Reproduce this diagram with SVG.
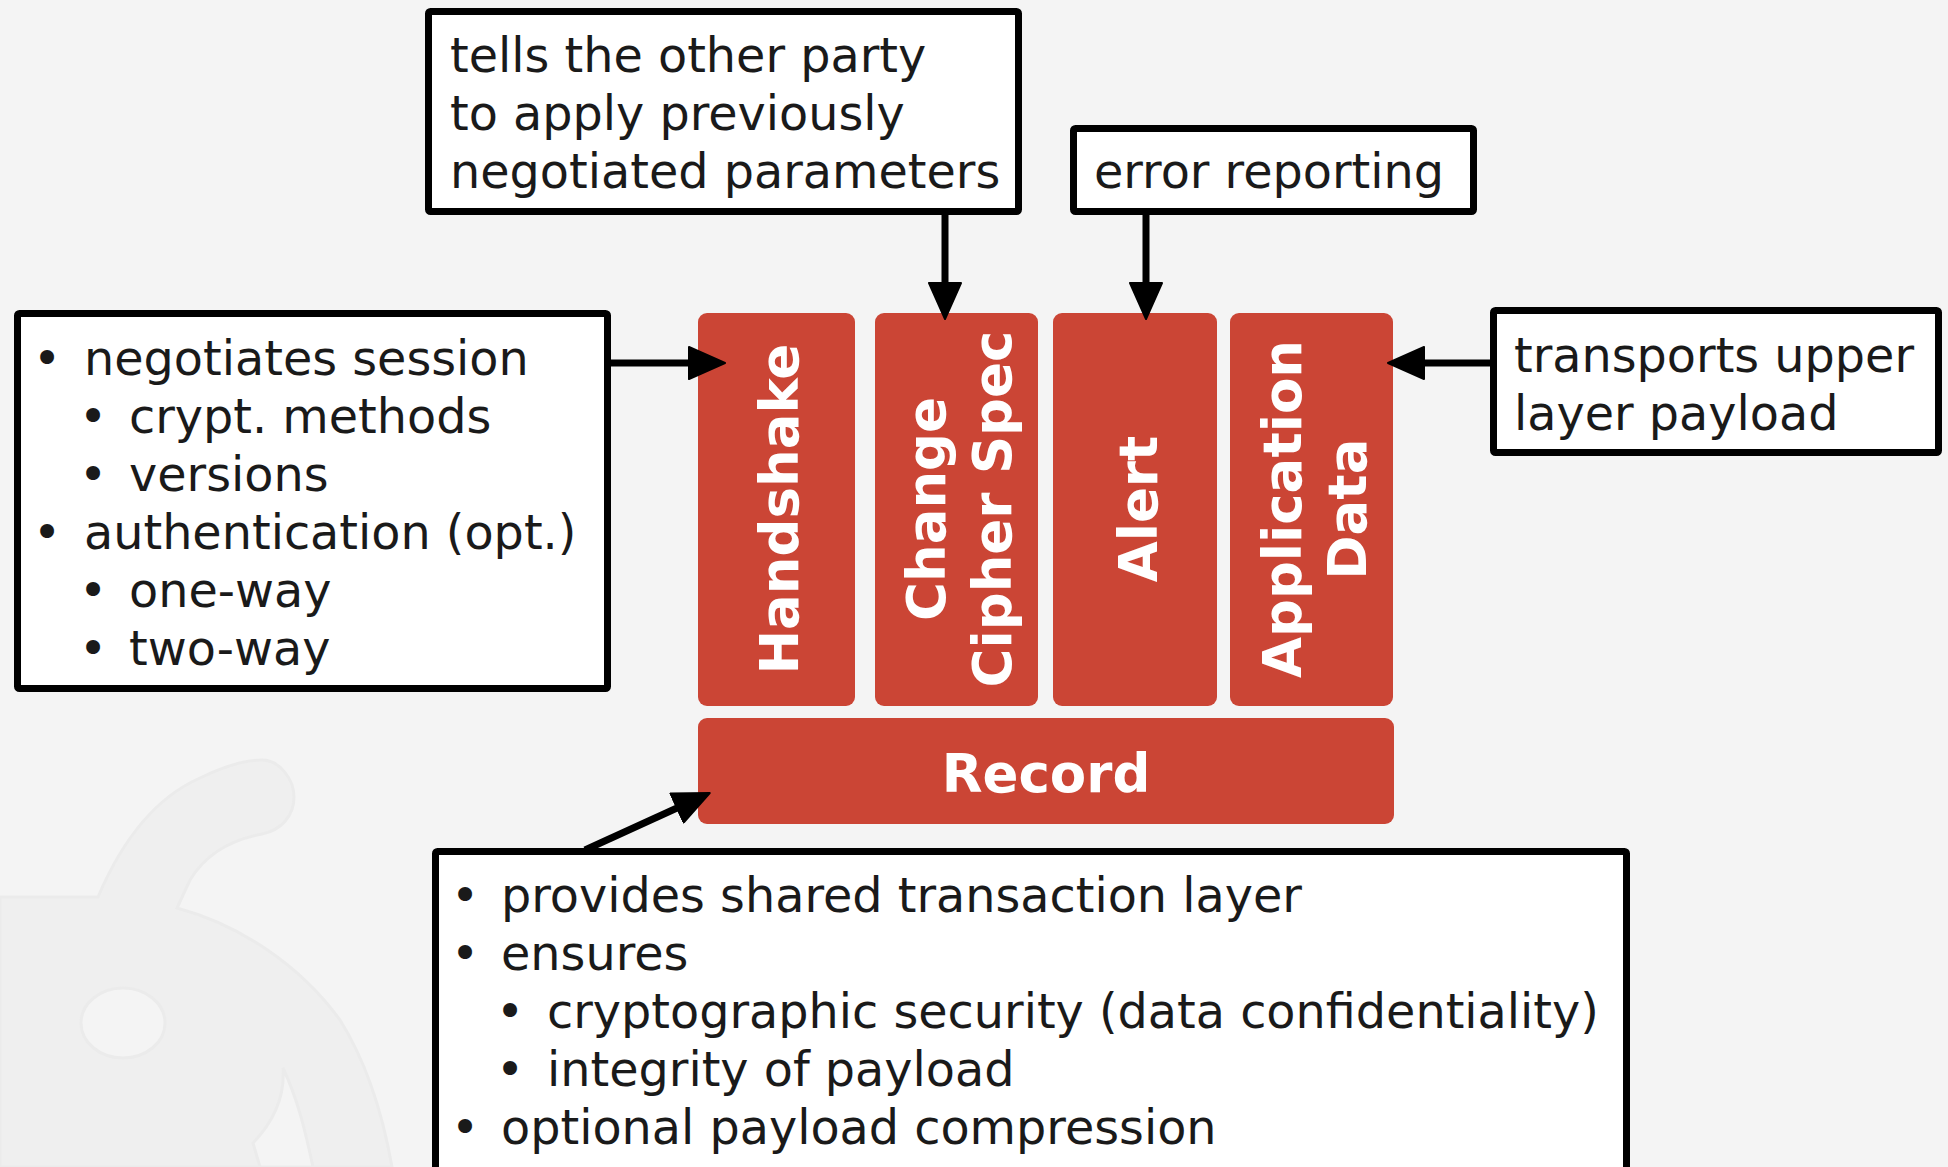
<svg xmlns="http://www.w3.org/2000/svg" width="1948" height="1167" viewBox="0 0 1948 1167">
  <style>
    .note { fill: #ffffff; stroke: #000000; stroke-width: 7; }
    .layer { fill: #cb4535; }
    .txt { font-family: "DejaVu Sans", Verdana, sans-serif; font-size: 47.7px; fill: #1a1a1a; }
    .lbl { font-family: "DejaVu Sans", Verdana, sans-serif; font-size: 53px; font-weight: bold; fill: #ffffff; text-anchor: middle; }
    .bul { text-anchor: middle; }
    .conn { stroke: #000000; stroke-width: 7; fill: none; marker-end: url(#head); }
  </style>
  <defs>
    <marker id="head" markerUnits="userSpaceOnUse" viewBox="0 0 38 34" markerWidth="38" markerHeight="34" refX="1" refY="17" orient="auto">
      <path d="M1,1 L37,17 L1,33 Z" fill="#000000" stroke="#000000" stroke-width="2" stroke-linejoin="round"/>
    </marker>
  </defs>

  <!-- page background -->
  <rect x="0" y="0" width="1948" height="1167" fill="#f4f4f4"/>

  <!-- faint background emblem, lower left -->
  <g id="emblem" fill="#efefef" stroke="#ebebeb" stroke-width="3">
    <path d="M0,897 L98,897 C118,850 150,800 200,778 C225,766 245,760 262,760 C280,760 294,780 294,797 C294,815 282,830 262,834 C230,840 205,855 190,880 L177,908 C240,925 300,965 340,1020 C365,1060 382,1110 392,1167 L0,1167 Z"/>
    <ellipse cx="123" cy="1023" rx="42" ry="35" fill="#f4f4f4"/>
    <path d="M283,1068 C285,1095 275,1120 253,1143 L260,1167 L313,1167 C305,1130 298,1100 283,1068 Z" fill="#f4f4f4"/>
  </g>

  <!-- protocol layers -->
  <g id="handshake">
    <rect class="layer" x="698" y="313" width="157" height="393" rx="9"/>
    <text class="lbl" transform="translate(798,509) rotate(-90)">Handshake</text>
  </g>
  <g id="change-cipher-spec">
    <rect class="layer" x="875" y="313" width="163" height="393" rx="9"/>
    <text class="lbl" transform="translate(945,509) rotate(-90)">Change</text>
    <text class="lbl" transform="translate(1011,509) rotate(-90)">Cipher Spec</text>
  </g>
  <g id="alert">
    <rect class="layer" x="1053" y="313" width="164" height="393" rx="9"/>
    <text class="lbl" transform="translate(1157,509) rotate(-90)">Alert</text>
  </g>
  <g id="application-data">
    <rect class="layer" x="1230" y="313" width="163" height="393" rx="9"/>
    <text class="lbl" transform="translate(1301,509) rotate(-90)">Application</text>
    <text class="lbl" transform="translate(1366,509) rotate(-90)">Data</text>
  </g>
  <g id="record">
    <rect class="layer" x="698" y="718" width="696" height="106" rx="9"/>
    <text class="lbl" x="1046" y="792">Record</text>
  </g>

  <!-- annotation boxes -->
  <g id="note-ccs">
    <rect class="note" x="428.5" y="11.5" width="590" height="200" rx="2"/>
    <text class="txt" x="450" y="72">tells the other party</text>
    <text class="txt" x="450" y="130">to apply previously</text>
    <text class="txt" x="450" y="188">negotiated parameters</text>
  </g>
  <g id="note-alert">
    <rect class="note" x="1073.5" y="128.5" width="400" height="83" rx="2"/>
    <text class="txt" x="1094" y="188">error reporting</text>
  </g>
  <g id="note-handshake">
    <rect class="note" x="17.5" y="313.5" width="590" height="375" rx="2"/>
    <g class="txt">
      <text class="bul" x="47" y="375">•</text><text x="84" y="375">negotiates session</text>
      <text class="bul" x="93" y="433">•</text><text x="129" y="433">crypt. methods</text>
      <text class="bul" x="93" y="491">•</text><text x="129" y="491">versions</text>
      <text class="bul" x="47" y="549">•</text><text x="84" y="549">authentication (opt.)</text>
      <text class="bul" x="93" y="607">•</text><text x="129" y="607">one-way</text>
      <text class="bul" x="93" y="665">•</text><text x="129" y="665">two-way</text>
    </g>
  </g>
  <g id="note-appdata">
    <rect class="note" x="1493.5" y="310.5" width="445" height="142" rx="2"/>
    <text class="txt" x="1514" y="372">transports upper</text>
    <text class="txt" x="1514" y="430">layer payload</text>
  </g>
  <g id="note-record">
    <rect class="note" x="435.5" y="851.5" width="1191" height="330" rx="2"/>
    <g class="txt">
      <text class="bul" x="465" y="912">•</text><text x="501" y="912">provides shared transaction layer</text>
      <text class="bul" x="465" y="970">•</text><text x="501" y="970">ensures</text>
      <text class="bul" x="510" y="1028">•</text><text x="547" y="1028">cryptographic security (data confidentiality)</text>
      <text class="bul" x="510" y="1086">•</text><text x="547" y="1086">integrity of payload</text>
      <text class="bul" x="465" y="1144">•</text><text x="501" y="1144">optional payload compression</text>
    </g>
  </g>

  <!-- connectors -->
  <g id="connectors">
    <line class="conn" x1="611" y1="363" x2="689" y2="363"/>
    <line class="conn" x1="945" y1="214" x2="945" y2="283"/>
    <line class="conn" x1="1146" y1="214" x2="1146" y2="283"/>
    <line class="conn" x1="1490" y1="363" x2="1424" y2="363"/>
    <line class="conn" x1="585" y1="850" x2="677" y2="808"/>
  </g>
</svg>
